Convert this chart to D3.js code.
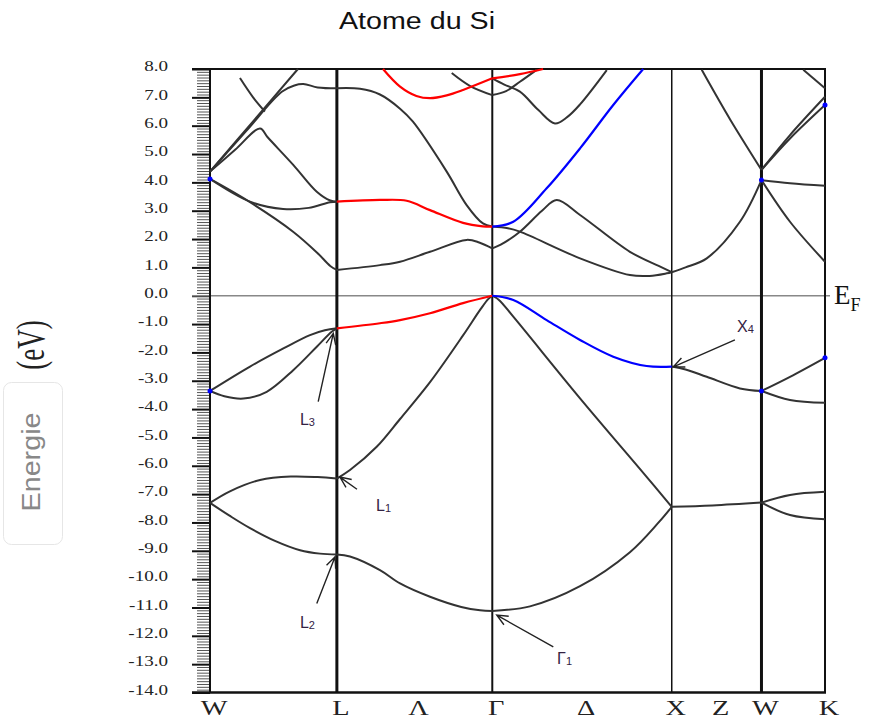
<!DOCTYPE html>
<html><head><meta charset="utf-8">
<script src="https://cdn.jsdelivr.net/npm/d3@7"></script>
<style>body{margin:0;background:#fff}svg{display:block}</style>
</head><body>
<svg id="c" width="877" height="719"></svg>
<script>
// ---------- data ----------
const kLabels = ["W","L","Λ","Γ","Δ","X","Z","W","K"];
const kLabelPos = [0,0.707,1.140,1.573,2.073,2.573,2.823,3.073,3.427];
const kLines = [0,0.707,1.573,2.573,3.073,3.427];
const kLineWidths = [2,3,2,1.5,3,2];
const yMajor = d3.range(-14,9,1);
const yMinor = d3.range(-140,81,1).filter(v=>v%10!==0).map(v=>v/10);

// black bands, one array of [k, E] per panel piece
const bandsBlack = [
  // W-L valence
  [[0,-7.31],[0.111,-7.77],[0.223,-8.2],[0.362,-8.65],[0.502,-8.98],[0.613,-9.1],[0.707,-9.13]],
  [[0,-7.31],[0.111,-6.9],[0.279,-6.5],[0.45,-6.38],[0.6,-6.4],[0.707,-6.45]],
  [[0,-3.36],[0.223,-2.5],[0.409,-1.86],[0.557,-1.39],[0.64,-1.22],[0.707,-1.15]],
  [[0,-3.36],[0.08,-3.55],[0.186,-3.63],[0.316,-3.39],[0.465,-2.62],[0.595,-1.8],[0.678,-1.27],[0.707,-1.15]],
  // W-L conduction
  [[0,4.12],[0.223,3.3],[0.463,2.26],[0.6,1.5],[0.67,1.05],[0.707,0.91]],
  [[0,4.12],[0.223,3.32],[0.407,3.06],[0.55,3.1],[0.669,3.3],[0.707,3.32]],
  [[0,4.38],[0.14,5.15],[0.279,5.9],[0.32,5.6],[0.465,4.61],[0.595,3.67],[0.67,3.36],[0.707,3.32]],
  [[0,4.38],[0.2,5.8],[0.4,7.2],[0.47,7.42],[0.52,7.47],[0.6,7.35],[0.707,7.32]],
  [[0,4.38],[0.245,6.19],[0.49,8.0]],
  [[0.167,7.68],[0.24,7.0],[0.306,6.5]],
  // L-Γ
  [[0.707,-9.13],[0.78,-9.2],[0.947,-9.68],[1.059,-10.15],[1.226,-10.62],[1.4,-10.98],[1.505,-11.1],[1.573,-11.12]],
  [[0.707,-6.45],[0.78,-6.15],[0.929,-5.33],[1.059,-4.35],[1.226,-3.05],[1.41,-1.4],[1.505,-0.5],[1.55,-0.12],[1.573,0]],
  [[0.707,0.91],[0.947,1.08],[1.059,1.2],[1.226,1.55],[1.43,1.97],[1.5,1.88],[1.573,1.67]],
  [[0.707,7.32],[0.836,7.3],[0.947,7.1],[1.059,6.6],[1.131,6.14],[1.319,4.38],[1.43,3.2],[1.521,2.55],[1.573,2.44]],
  [[1.347,7.86],[1.45,7.4],[1.573,7.08]],
  // Γ-X
  [[1.573,-11.12],[1.783,-10.96],[2.062,-10.25],[2.34,-9.05],[2.5,-8.0],[2.573,-7.45]],
  [[1.573,0],[1.61,-0.15],[1.69,-0.74],[2.062,-3.62],[2.433,-6.39],[2.573,-7.45]],
  [[1.573,2.44],[1.66,2.38],[1.727,2.26],[2.062,1.32],[2.34,0.73],[2.45,0.7],[2.545,0.79],[2.573,0.83]],
  [[1.573,1.67],[1.62,1.8],[1.727,2.26],[1.85,3.0],[1.932,3.38],[2.062,2.85],[2.34,1.55],[2.5,1.05],[2.573,0.83]],
  [[1.573,7.08],[1.65,7.22],[1.727,7.55],[1.82,7.97]],
  [[1.573,7.67],[1.64,7.45],[1.727,7.2],[1.83,6.55],[1.922,6.08],[1.99,6.3],[2.062,6.75],[2.211,7.96]],
  // X-W
  [[2.573,-7.45],[2.8,-7.4],[3.073,-7.3]],
  [[2.573,-2.5],[2.65,-2.6],[2.768,-2.86],[2.953,-3.27],[3.073,-3.36]],
  [[2.573,0.83],[2.65,1.0],[2.768,1.32],[2.953,2.61],[3.073,4.08]],
  [[2.74,7.97],[2.9,6.2],[3.073,4.44]],
  // W-K
  [[3.073,-3.36],[3.232,-2.86],[3.427,-2.19]],
  [[3.073,-3.36],[3.232,-3.68],[3.427,-3.78]],
  [[3.073,-7.3],[3.232,-7.03],[3.427,-6.92]],
  [[3.073,-7.3],[3.232,-7.74],[3.427,-7.89]],
  [[3.073,4.08],[3.232,3.97],[3.427,3.88]],
  [[3.073,4.08],[3.232,2.61],[3.427,1.2]],
  [[3.073,4.44],[3.232,5.67],[3.427,7.02]],
  [[3.073,4.44],[3.232,5.55],[3.427,6.73]],
  [[3.306,7.97],[3.427,7.32]]
];
const bandsRed = [
  [[0.707,-1.15],[0.947,-0.97],[1.059,-0.86],[1.226,-0.62],[1.41,-0.26],[1.573,0]],
  [[0.707,3.32],[0.947,3.38],[1.096,3.35],[1.226,3.02],[1.41,2.57],[1.52,2.45],[1.573,2.44]],
  [[0.964,8.0],[1.059,7.38],[1.15,7.05],[1.226,6.97],[1.319,7.07],[1.41,7.26],[1.573,7.67]],
  [[1.573,7.67],[1.727,7.82],[1.856,8.0]]
];
const bandsBlue = [
  [[1.573,0],[1.69,-0.15],[1.876,-0.86],[2.062,-1.56],[2.247,-2.15],[2.433,-2.48],[2.573,-2.5]],
  [[1.573,2.44],[1.69,2.61],[1.876,3.79],[2.062,5.2],[2.247,6.73],[2.414,8.0]]
];
const blueDots = [[0,4.12],[0,-3.36],[3.073,4.08],[3.073,-3.36],[3.427,-2.19],[3.427,6.73]];
const annotations = [
  {name:"L",sub:"3",tip:[0.687,-1.33],tail:[0.603,-3.74],at:[0.501,-4.56]},
  {name:"L",sub:"1",tip:[0.724,-6.40],tail:[0.819,-6.83],at:[0.925,-7.6]},
  {name:"L",sub:"2",tip:[0.697,-9.21],tail:[0.595,-10.86],at:[0.501,-11.73]},
  {name:"Γ",sub:"1",tip:[1.598,-11.27],tail:[1.913,-12.39],at:[1.934,-13.0]},
  {name:"X",sub:"4",tip:[2.582,-2.51],tail:[2.925,-1.56],at:[2.937,-1.28]}
];

// ---------- drawing ----------
const svg = d3.select("#c");
const x = d3.scaleLinear().domain([0,3.427]).range([210,825]);
const y = d3.scaleLinear().domain([-14,8]).range([692.5,69]);

// title
svg.append("text").attr("x",417).attr("y",28.5).attr("text-anchor","middle")
  .attr("font-family","Liberation Sans, Arial, sans-serif").attr("font-size",23)
  .attr("textLength",156).attr("lengthAdjust","spacingAndGlyphs")
  .attr("fill","#111").text("Atome du Si");

// y label (eV)
svg.append("text").attr("transform","translate(44,345) rotate(-90) scale(1,1.45)")
  .attr("text-anchor","middle").attr("font-family","Liberation Serif, Times New Roman, serif")
  .attr("font-size",27).attr("fill","#222").text("(eV)");
// Energie box
svg.append("rect").attr("x",3.5).attr("y",382.5).attr("width",59).attr("height",162)
  .attr("rx",8).attr("fill","#fff").attr("stroke","#e6e6e6");
svg.append("text").attr("transform","translate(40,462) rotate(-90)")
  .attr("text-anchor","middle").attr("font-family","Liberation Sans, Arial, sans-serif")
  .attr("font-size",25).attr("textLength",99).attr("lengthAdjust","spacingAndGlyphs")
  .attr("fill","#888").text("Energie");

// minor ticks
const gMinor = svg.append("g").attr("transform","translate(210,0)")
  .call(d3.axisLeft(y).tickValues(yMinor).tickSize(13).tickFormat(""));
gMinor.select(".domain").remove();
gMinor.selectAll("line").attr("stroke","#555").attr("stroke-width",1);
// major ticks
const gMajor = svg.append("g").attr("transform","translate(210,0)")
  .call(d3.axisLeft(y).tickValues(yMajor).tickSize(18).tickFormat(d=>d.toFixed(1)));
gMajor.select(".domain").remove();
gMajor.selectAll("line").attr("stroke","#111").attr("stroke-width",2);
gMajor.selectAll("text").attr("font-family","Liberation Serif, Times New Roman, serif")
  .attr("font-size",15).attr("fill","#222").attr("x",-42/1.27).attr("dy","0.12em")
  .attr("transform","scale(1.27,1)").attr("text-anchor","end");

// Fermi level
svg.append("line").attr("x1",192).attr("x2",830).attr("y1",y(0)).attr("y2",y(0))
  .attr("stroke","#888").attr("stroke-width",1.5);

// vertical symmetry lines
svg.selectAll(".kl").data(kLines).enter().append("line")
  .attr("x1",d=>x(d)).attr("x2",d=>x(d)).attr("y1",y(8)).attr("y2",y(-14))
  .attr("stroke","#111").attr("stroke-width",(d,i)=>kLineWidths[i]);
// top/bottom frame
svg.append("line").attr("x1",192).attr("x2",826).attr("y1",y(8)).attr("y2",y(8)).attr("stroke","#111").attr("stroke-width",2);
svg.append("line").attr("x1",192).attr("x2",826).attr("y1",y(-14)).attr("y2",y(-14)).attr("stroke","#111").attr("stroke-width",2.5);

// bands
const line = d3.line().x(d=>x(d[0])).y(d=>y(d[1])).curve(d3.curveCatmullRom.alpha(0.5));
const gB = svg.append("g").attr("fill","none");
gB.selectAll(".b").data(bandsBlack).enter().append("path").attr("d",line)
  .attr("stroke","#333").attr("stroke-width",2);
gB.selectAll(".r").data(bandsRed).enter().append("path").attr("d",line)
  .attr("stroke","#ff0000").attr("stroke-width",2.2);
gB.selectAll(".u").data(bandsBlue).enter().append("path").attr("d",line)
  .attr("stroke","#0000ff").attr("stroke-width",2.2);
svg.selectAll(".dot").data(blueDots).enter().append("circle")
  .attr("cx",d=>x(d[0])).attr("cy",d=>y(d[1])).attr("r",2.5).attr("fill","#0000ff");

// k labels
svg.selectAll(".kt").data(kLabels).enter().append("text")
  .attr("transform",(d,i)=>`translate(${x(kLabelPos[i])+4},715) scale(1.35,1)`)
  .attr("text-anchor","middle").attr("font-family","Liberation Serif, Times New Roman, serif")
  .attr("font-size",21).attr("fill","#222").text(d=>d);

// E_F
const ef = svg.append("text").attr("x",834).attr("y",304)
  .attr("font-family","Liberation Serif, Times New Roman, serif").attr("fill","#111");
ef.append("tspan").attr("font-size",27).text("E");
ef.append("tspan").attr("font-size",18).attr("dy",7).text("F");

// annotations
const gA = svg.append("g");
annotations.forEach(a=>{
  const tx=x(a.tip[0]), ty=y(a.tip[1]), sx=x(a.tail[0]), sy=y(a.tail[1]);
  const ang=Math.atan2(sy-ty,sx-tx), L=12, sp=0.42;
  gA.append("path").attr("fill","none").attr("stroke","#222").attr("stroke-width",1.4)
    .attr("d",`M${sx},${sy}L${tx},${ty}M${tx+L*Math.cos(ang-sp)},${ty+L*Math.sin(ang-sp)}L${tx},${ty}L${tx+L*Math.cos(ang+sp)},${ty+L*Math.sin(ang+sp)}`);
  const t=gA.append("text").attr("x",x(a.at[0])).attr("y",y(a.at[1]))
    .attr("font-family","Liberation Sans, Arial, sans-serif").attr("fill","#332244");
  t.append("tspan").attr("font-size",16).text(a.name);
  t.append("tspan").attr("font-size",11).attr("dy",1).text(a.sub);
});
</script>
</body></html>
